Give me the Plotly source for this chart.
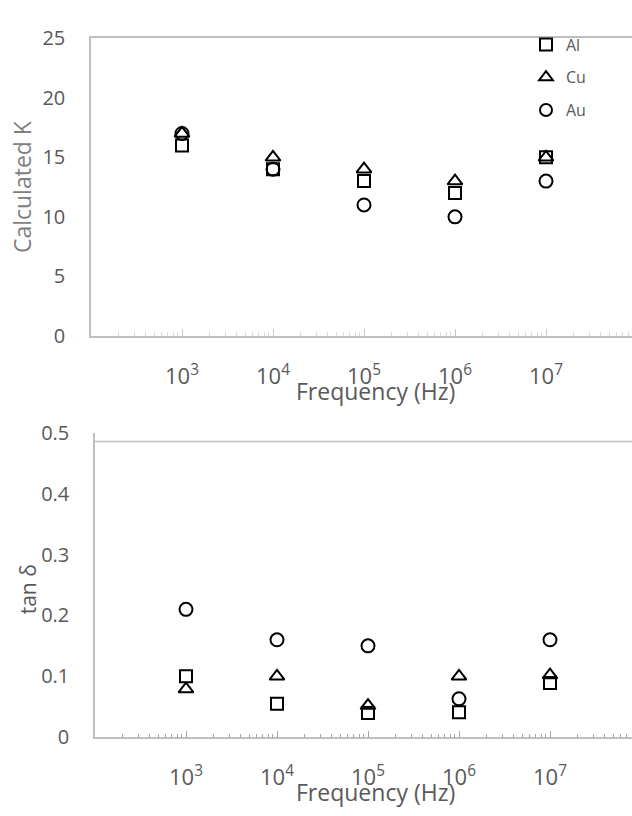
import numpy as np
import plotly.graph_objects as go

freq = [1e3, 1e4, 1e5, 1e6, 1e7]
tick_vals = [1e3, 1e4, 1e5, 1e6, 1e7]
tick_text = ["10<sup>3</sup>", "10<sup>4</sup>", "10<sup>5</sup>", "10<sup>6</sup>", "10<sup>7</sup>"]

k_al = [16, 14, 13, 12, 15]
k_cu = [17, 15, 14, 13, 15]
k_au = [17, 14, 11, 10, 13]

tan_al = [0.10, 0.055, 0.040, 0.041, 0.089]
tan_cu = [0.079, 0.100, 0.052, 0.100, 0.102]
tan_au = [0.21, 0.16, 0.15, 0.063, 0.16]

W, H = 632, 816
FONT = "Open Sans"
GREY = "#595959"
LINE = "#bfbfbf"

def px_x(p):
    return p / W

def px_y(p):
    return 1 - p / H

minor_vals = [m * 10.0 ** e for e in range(2, 8) for m in range(2, 10)]

fig = go.Figure()

symbols = {"Al": ("square-open", 12), "Cu": ("triangle-up-open", 13), "Au": ("circle-open", 13)}

for name, ys in [("Al", k_al), ("Cu", k_cu), ("Au", k_au)]:
    sym, sz = symbols[name]
    fig.add_trace(go.Scatter(
        x=freq, y=ys, mode="markers", name=name, legendgroup=name,
        marker=dict(symbol=sym, size=sz, color="black", line=dict(color="black", width=2)),
        xaxis="x", yaxis="y", showlegend=True))

for name, ys in [("Al", tan_al), ("Cu", tan_cu), ("Au", tan_au)]:
    sym, sz = symbols[name]
    fig.add_trace(go.Scatter(
        x=freq, y=ys, mode="markers", name=name, legendgroup=name,
        marker=dict(symbol=sym, size=sz, color="black", line=dict(color="black", width=2)),
        xaxis="x2", yaxis="y2", showlegend=False))

top_l, top_t, top_b = 91, 25, 333
bot_l, bot_t, bot_b = 95, 433, 748
dec = 91.0

common_x = dict(
    type="log", tickvals=tick_vals, ticktext=tick_text, showgrid=False, zeroline=False,
    showline=True, linecolor=LINE, linewidth=1.5,
    ticks="inside", ticklen=7, tickcolor="#a6a6a6", tickwidth=1,
    tickfont=dict(family=FONT, size=22, color=GREY), ticklabelstandoff=20,
    minor=dict(tickvals=minor_vals, ticks="inside", ticklen=4, tickcolor="#a6a6a6", tickwidth=1),
)

ytick_font = dict(family=FONT, size=20, color=GREY)

fig.update_layout(
    width=W, height=H, margin=dict(l=0, r=0, t=0, b=0),
    paper_bgcolor="white", plot_bgcolor="white",
    font=dict(family=FONT, color=GREY),
    xaxis=dict(common_x, domain=[px_x(top_l), 1], range=[2, 2 + (W - top_l) / dec],
               mirror=True, anchor="y",
               minor=dict(tickvals=minor_vals, ticks="inside", ticklen=4, tickcolor="#dcdcdc", tickwidth=1),
               tickcolor="#c8c8c8"),
    yaxis=dict(domain=[px_y(top_b), px_y(top_t)], range=[0, 25], dtick=5, anchor="x",
               showgrid=False, zeroline=False, showline=True, linecolor=LINE, linewidth=1.5,
               ticks="", tickfont=ytick_font, ticklabelstandoff=20),
    xaxis2=dict(common_x, domain=[px_x(bot_l), 1], range=[2, 2 + (W - bot_l) / dec], anchor="y2"),
    yaxis2=dict(domain=[px_y(bot_b), px_y(bot_t)], range=[0, 0.5], dtick=0.1, anchor="x2",
                showgrid=False, zeroline=False, showline=True, linecolor=LINE, linewidth=1.5,
                ticks="", tickfont=ytick_font, ticklabelstandoff=20),
    legend=dict(x=px_x(526), y=px_y(14), xanchor="left", yanchor="top",
                font=dict(family=FONT, size=16, color=GREY), bgcolor="rgba(0,0,0,0)",
                itemsizing="constant", tracegroupgap=9, traceorder="grouped", itemwidth=30),
    showlegend=True,
)

fig.add_shape(type="line", xref="paper", yref="paper",
              x0=px_x(bot_l), x1=1, y0=px_y(442), y1=px_y(442),
              line=dict(color=LINE, width=1.5))

for ty in (390, 805):
    fig.add_annotation(xref="paper", yref="paper", x=px_x(375), y=px_y(ty), text="Frequency (Hz)",
                       showarrow=False, xanchor="center", yanchor="middle",
                       font=dict(family=FONT, size=23, color=GREY))

fig.add_annotation(xref="paper", yref="paper", x=px_x(22), y=px_y(179), text="Calculated K",
                   textangle=-90, showarrow=False, xanchor="center", yanchor="middle",
                   font=dict(family=FONT, size=23, color="#808080"))
fig.add_annotation(xref="paper", yref="paper", x=px_x(28), y=px_y(595), text="tan δ",
                   textangle=-90, showarrow=False, xanchor="center", yanchor="middle",
                   font=dict(family=FONT, size=21, color=GREY))

fig.write_html("out.html")
